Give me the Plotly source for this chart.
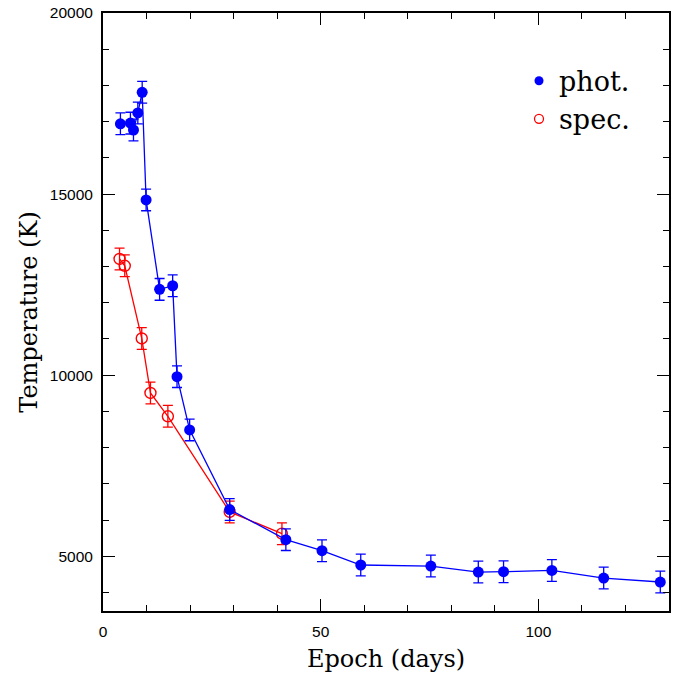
import plotly.graph_objects as go

# photometric temperatures
phot_epoch = [4.0, 6.3, 7.0, 8.0, 9.0, 9.9, 13.0, 16.0, 17.0, 19.9,
              29.1, 42.0, 50.3, 59.2, 75.3, 86.2, 92.0, 103.1, 115.0, 128.0]
phot_temp = [16940, 16960, 16770, 17240, 17810, 14840, 12370, 12470, 9960, 8490,
             6290, 5460, 5155, 4760, 4730, 4565, 4575, 4610, 4400, 4290]
phot_err = [300] * len(phot_temp)

# spectroscopic temperatures
spec_epoch = [3.8, 5.0, 8.9, 10.9, 14.9, 29.1, 41.1]
spec_temp = [13210, 13020, 11015, 9510, 8865, 6225, 5625]
spec_err = [300] * len(spec_temp)

BLUE = "#0000ff"
RED = "#ff0000"

fig = go.Figure()
fig.add_trace(go.Scatter(
    x=spec_epoch, y=spec_temp, mode="lines+markers", showlegend=False,
    line=dict(color=RED, width=1.3),
    marker=dict(symbol="circle-open", size=11, color=RED, line=dict(width=1.4)),
    error_y=dict(type="data", array=spec_err, color=RED, thickness=1.3, width=5),
))
fig.add_trace(go.Scatter(
    x=phot_epoch, y=phot_temp, mode="lines+markers", showlegend=False,
    line=dict(color=BLUE, width=1.3),
    marker=dict(symbol="circle", size=11, color=BLUE),
    error_y=dict(type="data", array=phot_err, color=BLUE, thickness=1.3, width=5),
))
# legend entries (markers only)
fig.add_trace(go.Scatter(x=[None], y=[None], mode="markers", name="phot.",
                         marker=dict(symbol="circle", size=9, color=BLUE)))
fig.add_trace(go.Scatter(x=[None], y=[None], mode="markers", name="spec.",
                         marker=dict(symbol="circle-open", size=9, color=RED,
                                     line=dict(width=1.3))))

axis_common = dict(
    showgrid=False, zeroline=False, showline=True, linecolor="black", linewidth=2,
    mirror="allticks", ticks="inside", ticklen=12, tickwidth=1, tickcolor="black",
    tickformat="d", automargin=False,
    tickfont=dict(family="Liberation Sans, Arial", size=15.5, color="black"),
)
fig.update_xaxes(
    range=[0, 130], tick0=0, dtick=50, ticklabelstandoff=5,
    minor=dict(ticks="inside", ticklen=6, dtick=10, tickcolor="black", tickwidth=1),
    title=dict(text="Epoch (days)", font=dict(family="DejaVu Serif", size=24, color="black"),
               standoff=20),
    **axis_common,
)
fig.update_yaxes(
    range=[3490, 20000], tick0=0, dtick=5000, ticklabelstandoff=5,
    minor=dict(ticks="inside", ticklen=6, dtick=1000, tickcolor="black", tickwidth=1),
    title=dict(text="Temperature (K)", font=dict(family="DejaVu Serif", size=24, color="black"),
               standoff=5),
    **axis_common,
)
fig.update_layout(
    width=680, height=673,
    margin=dict(l=103, r=11, t=13, b=62),
    paper_bgcolor="white", plot_bgcolor="white",
    legend=dict(x=0.735, y=0.927, xanchor="left", yanchor="top",
                bgcolor="rgba(0,0,0,0)", borderwidth=0,
                font=dict(family="DejaVu Serif", size=27, color="black"),
                itemwidth=30, tracegroupgap=0),
)
fig.write_html("out.html")
